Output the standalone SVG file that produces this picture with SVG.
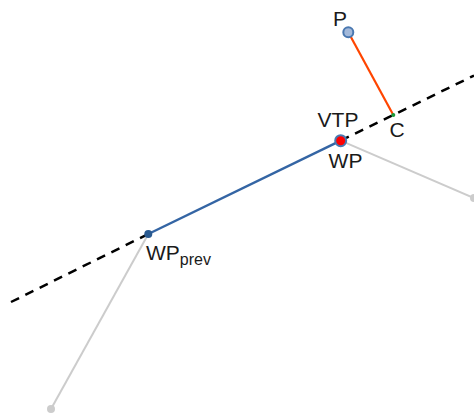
<svg xmlns="http://www.w3.org/2000/svg" width="474" height="416" viewBox="0 0 474 416">
  <style>
    .lbl { font-family: "Liberation Sans", Arial, sans-serif; font-size: 21px; fill: #1a1a1a; }
    .sub { font-size: 16px; }
    .guide { stroke: #cccccc; stroke-width: 2; fill: none; }
    .endpt { fill: #cccccc; }
    .dash { stroke: #000; stroke-width: 2.5; stroke-dasharray: 9,7; }
  </style>
  <rect width="474" height="416" fill="#ffffff"/>
  <g id="connectors">
    <line class="guide" x1="148.3" y1="234" x2="51" y2="409"/>
    <line class="guide" x1="340.7" y1="140.7" x2="474" y2="198"/>
    <line class="dash" x1="11" y1="302" x2="148.3" y2="234"/>
    <line class="dash" x1="340.7" y1="140.7" x2="474" y2="75.5"/>
    <line x1="148.3" y1="234" x2="340.7" y2="140.7" stroke="#3465a4" stroke-width="2.5"/>
    <line x1="348.3" y1="32.3" x2="393.3" y2="115" stroke="#ff4500" stroke-width="2.2"/>
  </g>
  <g id="end-a"><circle class="endpt" cx="51" cy="409" r="4"/></g>
  <g id="end-b"><circle class="endpt" cx="474" cy="198" r="4"/></g>
  <g id="P">
    <circle cx="348.3" cy="32.3" r="5" fill="#a3b9da" stroke="#4a78b0" stroke-width="2"/>
    <text class="lbl" x="340" y="26" text-anchor="middle">P</text>
  </g>
  <g id="C">
    <circle cx="393.3" cy="115" r="2" fill="#1a9a3a"/>
    <text class="lbl" x="397" y="137" text-anchor="middle">C</text>
  </g>
  <g id="WP">
    <circle cx="340.7" cy="140.7" r="5.5" fill="#ff0000" stroke="#4a78b0" stroke-width="2"/>
    <text class="lbl" x="338" y="127" text-anchor="middle">VTP</text>
    <text class="lbl" x="345.5" y="168" text-anchor="middle">WP</text>
  </g>
  <g id="WPprev">
    <circle cx="148.3" cy="234" r="4" fill="#2a5a90"/>
    <text class="lbl" x="146" y="260">WP<tspan class="sub" dy="5">prev</tspan></text>
  </g>
</svg>
